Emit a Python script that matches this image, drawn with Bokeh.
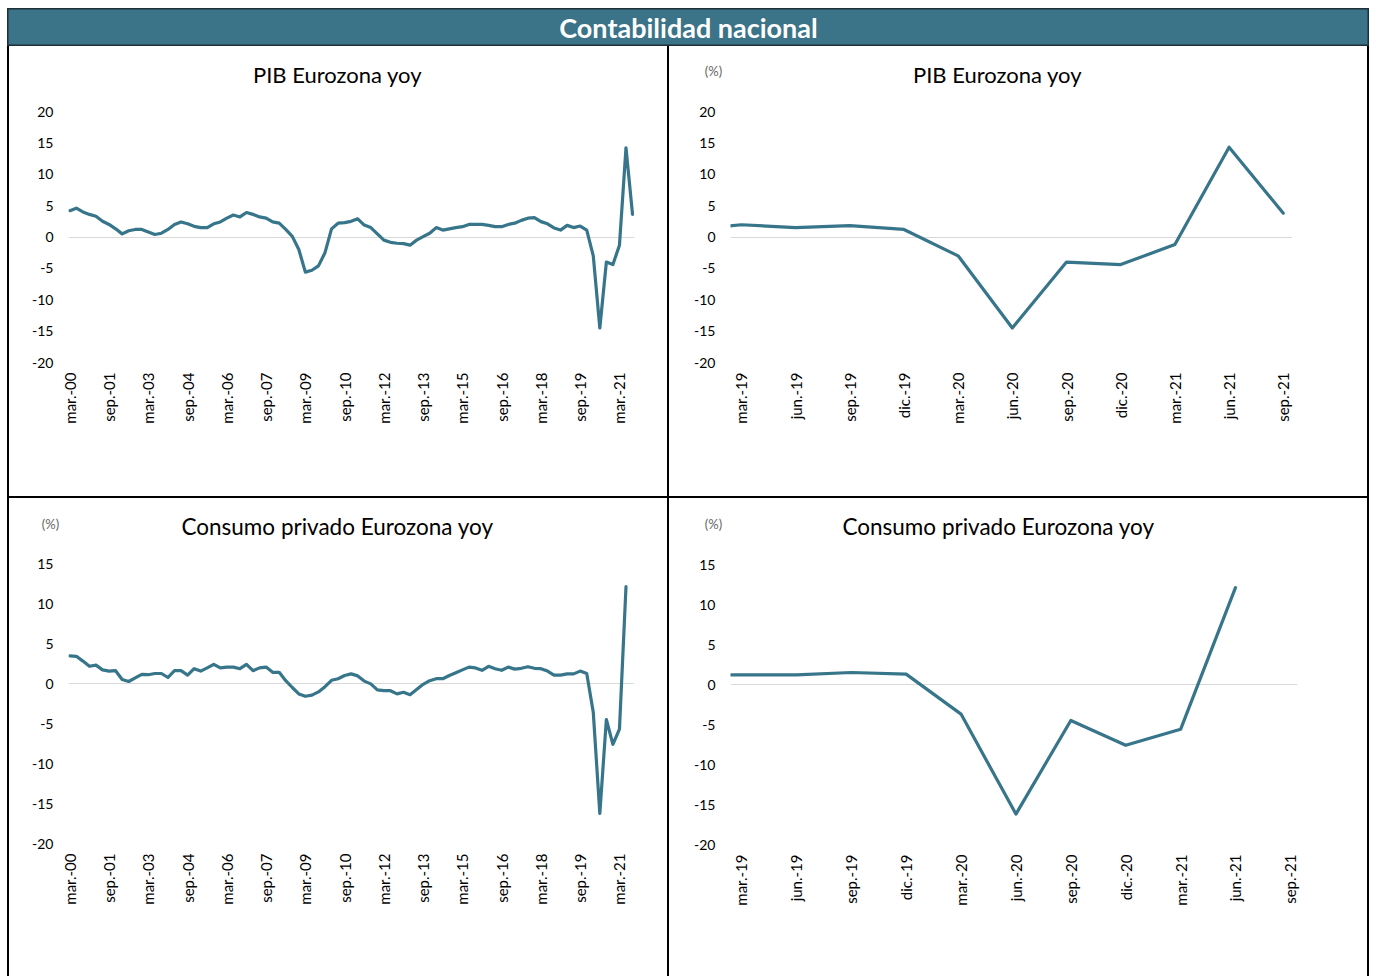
import math
from bokeh.plotting import figure
from bokeh.models import Range1d, FixedTicker, ColumnDataSource, Div
from bokeh.layouts import column, row
from bokeh.embed import file_html
from bokeh.resources import INLINE
from bokeh.core.properties import value

LINE = "#37758A"
HEADER = "#3B7388"
FONT = "Lato"

header_title = "Contabilidad nacional"
pib_title = "PIB Eurozona yoy"
cons_title = "Consumo privado Eurozona yoy"
unit_text = "(%)"

# quarterly series, mar.-00 .. sep.-21 (yoy %)
pib_long = [4.2, 4.6, 4.0, 3.6, 3.3, 2.5, 2.0, 1.3, 0.5, 1.0,
            1.2, 1.2, 0.8, 0.4, 0.6, 1.2, 2.0, 2.4, 2.1, 1.7,
            1.5, 1.5, 2.1, 2.4, 3.0, 3.5, 3.2, 3.9, 3.6, 3.2,
            3.0, 2.4, 2.2, 1.2, 0.1, -2.0, -5.6, -5.3, -4.6, -2.5,
            1.3, 2.2, 2.3, 2.5, 2.9, 1.9, 1.5, 0.5, -0.5, -0.85,
            -1.0, -1.05, -1.3, -0.5, 0.05, 0.6, 1.5, 1.1, 1.3, 1.5,
            1.65, 2.0, 2.0, 2.0, 1.85, 1.65, 1.65, 2.0, 2.2, 2.65,
            3.0, 3.1, 2.45, 2.1, 1.45, 1.1, 1.85, 1.5, 1.75, 1.1,
            -3.0, -14.5, -4.0, -4.4, -1.3, 14.2, 3.6]

# quarterly series, mar.-00 .. jun.-21 (yoy %)
cons_long = [3.45, 3.4, 2.8, 2.15, 2.3, 1.7, 1.55, 1.6, 0.5, 0.25,
             0.7, 1.15, 1.1, 1.25, 1.25, 0.75, 1.6, 1.6, 1.05, 1.85,
             1.55, 1.95, 2.4, 1.95, 2.05, 2.05, 1.85, 2.4, 1.6, 1.95,
             2.05, 1.4, 1.4, 0.35, -0.5, -1.3, -1.6, -1.45, -1.05, -0.4,
             0.4, 0.6, 1.0, 1.2, 0.95, 0.3, -0.05, -0.8, -0.9, -0.9,
             -1.3, -1.1, -1.4, -0.75, -0.1, 0.35, 0.6, 0.6, 1.0, 1.35,
             1.7, 2.05, 1.95, 1.65, 2.15, 1.85, 1.65, 2.05, 1.8, 1.9,
             2.1, 1.9, 1.85, 1.55, 1.05, 1.05, 1.2, 1.2, 1.55, 1.25,
             -3.6, -16.25, -4.5, -7.6, -5.7, 12.1]

long_tick_labels = ["mar.-00", "sep.-01", "mar.-03", "sep.-04", "mar.-06",
                    "sep.-07", "mar.-09", "sep.-10", "mar.-12", "sep.-13",
                    "mar.-15", "sep.-16", "mar.-18", "sep.-19", "mar.-21"]
long_tick_step = 6

# short panels: data start one quarter before the first visible label
short_quarters = ["dic.-18", "mar.-19", "jun.-19", "sep.-19", "dic.-19", "mar.-20",
                  "jun.-20", "sep.-20", "dic.-20", "mar.-21", "jun.-21", "sep.-21"]
short_labels = short_quarters[1:]
pib_short = [1.1, 1.95, 1.5, 1.8, 1.2, -3.0, -14.5, -4.0, -4.4, -1.2, 14.3, 3.8]
cons_short = [1.2, 1.2, 1.2, 1.5, 1.3, -3.7, -16.2, -4.5, -7.6, -5.6, 12.1]

y_ticks_top = [-20, -15, -10, -5, 0, 5, 10, 15, 20]
y_ticks_bottom = [-20, -15, -10, -5, 0, 5, 10, 15]

PAD_TOP = 10  # room above the frame inside the chart canvas


def make_panel(width, height, left, frame_w, top, frame_h, x_range, y_range,
               y_ticks, xs, ys, xtick_pos, xtick_labels, title, title_pos,
               unit_pos, title_size):
    head_h = top - PAD_TOP
    head = figure(width=width, height=head_h, output_backend="svg",
                  toolbar_location=None, x_range=Range1d(0, width),
                  y_range=Range1d(head_h, 0), min_border=0,
                  background_fill_color="white", border_fill_color="white",
                  outline_line_color=None, frame_align=False)
    head.axis.visible = False
    head.grid.visible = False
    head.text(x=[title_pos[0]], y=[title_pos[1]], text=[title],
              text_align="center", text_baseline="middle",
              text_font=value(FONT), text_font_size=title_size,
              text_color="#000000")
    if unit_pos is not None:
        head.text(x=[unit_pos[0]], y=[unit_pos[1]], text=[unit_text],
                  text_align="center", text_baseline="middle",
                  text_font=value(FONT), text_font_size="13px",
                  text_color="#666666")

    ch = height - head_h
    p = figure(width=width, height=ch, output_backend="svg",
               toolbar_location=None, x_range=Range1d(*x_range),
               y_range=Range1d(*y_range),
               min_border_left=left, min_border_right=width - left - frame_w,
               min_border_top=PAD_TOP, min_border_bottom=ch - PAD_TOP - frame_h,
               background_fill_color="white", border_fill_color="white",
               outline_line_color=None, frame_align=False)
    p.xgrid.grid_line_color = None
    p.ygrid.ticker = FixedTicker(ticks=[0])
    p.ygrid.grid_line_color = "#D9D9D9"
    p.ygrid.grid_line_width = 1

    ya = p.yaxis[0]
    ya.ticker = FixedTicker(ticks=y_ticks)
    ya.major_label_overrides = {t: str(t) for t in y_ticks}
    ya.axis_line_color = None
    ya.major_tick_line_color = None
    ya.minor_tick_line_color = None
    ya.major_tick_out = 0
    ya.major_tick_in = 0
    ya.minor_tick_out = 0
    ya.major_label_text_font = FONT
    ya.major_label_text_font_size = "14px"
    ya.major_label_text_color = "#000000"
    ya.major_label_standoff = 15

    xa = p.xaxis[0]
    xa.ticker = FixedTicker(ticks=xtick_pos)
    xa.major_label_overrides = {t: l for t, l in zip(xtick_pos, xtick_labels)}
    xa.major_label_orientation = math.pi / 2
    xa.axis_line_color = None
    xa.major_tick_line_color = None
    xa.minor_tick_line_color = None
    xa.major_tick_out = 0
    xa.major_tick_in = 0
    xa.minor_tick_out = 0
    xa.major_label_text_font = FONT
    xa.major_label_text_font_size = "15px"
    xa.major_label_text_color = "#000000"
    xa.major_label_standoff = 10

    src = ColumnDataSource(dict(x=xs, y=ys))
    p.line("x", "y", source=src, line_color=LINE, line_width=3.2,
           line_join="round", line_cap="round")

    return column(head, p)


def vbar(h):
    return Div(text="", width=2, height=h, margin=0,
               styles={"background-color": "#000000"})


def hbar(w):
    return Div(text="", width=w, height=2, margin=0,
               styles={"background-color": "#000000"})


long_pos = list(range(0, len(long_tick_labels) * long_tick_step, long_tick_step))
short_pos = list(range(1, len(short_quarters)))

tl = make_panel(658, 450, 59, 566, 65, 251, (-0.2, 86.3), (-20, 20), y_ticks_top,
                list(range(len(pib_long))), pib_long, long_pos, long_tick_labels,
                pib_title, (328, 28), None, "22px")
tr = make_panel(698, 450, 61, 562, 65, 251, (0.8, 11.17), (-20, 20), y_ticks_top,
                list(range(len(pib_short))), pib_short, short_pos, short_labels,
                pib_title, (328, 28), (44, 24), "22px")
bl = make_panel(658, 478, 59, 566, 65, 280, (-0.2, 86.3), (-20, 15), y_ticks_bottom,
                list(range(len(cons_long))), cons_long, long_pos, long_tick_labels,
                cons_title, (328, 28), (41, 25), "22.5px")
br = make_panel(698, 478, 61, 567, 66, 280, (0.8, 11.13), (-20, 15), y_ticks_bottom,
                list(range(len(cons_short))), cons_short, short_pos, short_labels,
                cons_title, (329, 28), (44, 25), "22.5px")

hdr = figure(width=1362, height=38, output_backend="svg", toolbar_location=None,
             x_range=Range1d(0, 1), y_range=Range1d(0, 1), min_border=0,
             background_fill_color=HEADER, border_fill_color=HEADER,
             outline_line_color="#1E2F36", outline_line_width=2, frame_align=False)
hdr.axis.visible = False
hdr.grid.visible = False
hdr.text(x=[0.5], y=[0.5], text=[header_title], text_align="center",
         text_baseline="middle", text_color="white", text_font=value(FONT),
         text_font_style="bold", text_font_size="27px")

top_row = row(vbar(450), tl, vbar(450), tr, vbar(450))
bottom_row = row(vbar(478), bl, vbar(478), br, vbar(478))
layout = column(hdr, top_row, hbar(1362), bottom_row, margin=(8, 0, 0, 7))

with open("out.html", "w") as f:
    f.write(file_html(layout, INLINE))
